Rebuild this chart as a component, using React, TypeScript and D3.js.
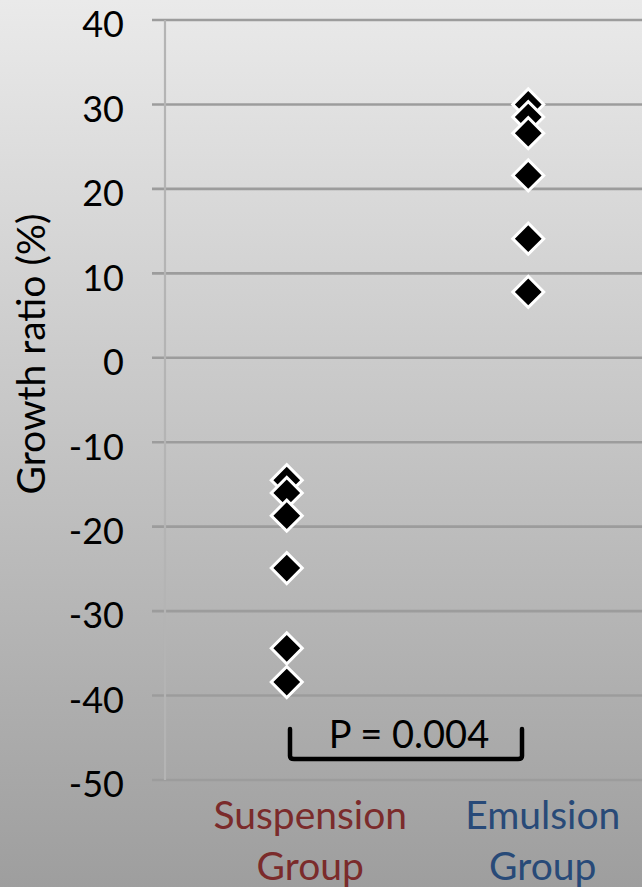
import React from "react";
import * as d3 from "d3";

const categories = ["Suspension", "Emulsion"];
const categoryLines = [["Suspension", "Group"], ["Emulsion", "Group"]];
const categoryColors = ["#7b2b2b", "#284a78"];
const suspensionValues = [-14.5, -16.0, -18.7, -24.9, -34.4, -38.4];
const emulsionValues = [30.0, 28.5, 26.6, 21.6, 14.1, 7.8];
const yTicks = [40, 30, 20, 10, 0, -10, -20, -30, -40, -50];
const yTitle = "Growth ratio (%)";
const pLabel = "P = 0.004";

const W = 642;
const H = 887;
const FONT = "Lato, 'Open Sans', sans-serif";

export default function App() {
  const y = d3.scaleLinear().domain([-50, 40]).range([780, 20]);
  const x = d3.scaleBand<string>().domain(categories).range([166, 649]);
  const xLabel = d3.scaleBand<string>().domain(categories).range([194, 659]);
  const axisX = 165;
  const diamond = d3.symbol().type(d3.symbolSquare).size(480)();

  const series = [suspensionValues, emulsionValues];

  const bx0 = 290;
  const bx1 = 522;
  const byTop = 729;
  const byBot = 759;
  const bracket = d3.path();
  bracket.moveTo(bx0, byTop);
  bracket.lineTo(bx0, byBot - 3);
  bracket.quadraticCurveTo(bx0, byBot, bx0 + 4, byBot);
  bracket.lineTo(bx1 - 4, byBot);
  bracket.quadraticCurveTo(bx1, byBot, bx1, byBot - 3);
  bracket.lineTo(bx1, byTop);

  return (
    <svg
      width={W}
      height={H}
      style={{ position: "absolute", left: 0, top: 0, display: "block" }}
      fontFamily={FONT}
    >
      <defs>
        <linearGradient id="bg" x1="0" y1="0" x2="0" y2="1">
          <stop offset="0" stopColor="#eaeaea" />
          <stop offset="1" stopColor="#9e9e9e" />
        </linearGradient>
      </defs>
      <rect x={0} y={0} width={W} height={H} fill="url(#bg)" />

      {/* gridlines */}
      {yTicks.map((t) => (
        <line
          key={t}
          x1={152}
          x2={W}
          y1={y(t)}
          y2={y(t)}
          stroke="#9c9c9c"
          strokeWidth={2.6}
        />
      ))}
      {/* y axis line */}
      <line x1={axisX} x2={axisX} y1={y(40)} y2={y(-50)} stroke="#b4b4b4" strokeWidth={2.2} />

      {/* tick labels */}
      {yTicks.map((t) => (
        <text
          key={"l" + t}
          x={124}
          y={y(t)}
          dy="0.48em"
          textAnchor="end"
          fontSize={36}
          fill="#000"
        >
          {String(t)}
        </text>
      ))}

      {/* y title */}
      <text
        transform={`translate(45, ${354}) rotate(-90)`}
        textAnchor="middle"
        fontSize={39}
        fill="#000"
      >
        {yTitle}
      </text>

      {/* points */}
      {series.map((vals, si) =>
        vals.map((v, i) => (
          <path
            key={si + "-" + i}
            d={diamond}
            transform={`translate(${x(categories[si])! + x.bandwidth() / 2}, ${y(v)}) rotate(45)`}
            fill="#000"
            stroke="#fff"
            strokeWidth={3}
            strokeLinejoin="miter"
          />
        ))
      )}

      {/* bracket */}
      <path d={bracket.toString()} fill="none" stroke="#000" strokeWidth={4.5} strokeLinecap="round" strokeLinejoin="round" />
      <text x={409} y={748} textAnchor="middle" fontSize={38} fill="#000">
        {pLabel}
      </text>

      {/* category labels */}
      {categoryLines.map((lines, ci) => (
        <text
          key={"c" + ci}
          x={xLabel(categories[ci])! + xLabel.bandwidth() / 2}
          y={829}
          textAnchor="middle"
          fontSize={39}
          fill={categoryColors[ci]}
        >
          {lines.map((ln, li) => (
            <tspan key={li} x={xLabel(categories[ci])! + xLabel.bandwidth() / 2} dy={li === 0 ? 0 : 51}>
              {ln}
            </tspan>
          ))}
        </text>
      ))}
    </svg>
  );
}
